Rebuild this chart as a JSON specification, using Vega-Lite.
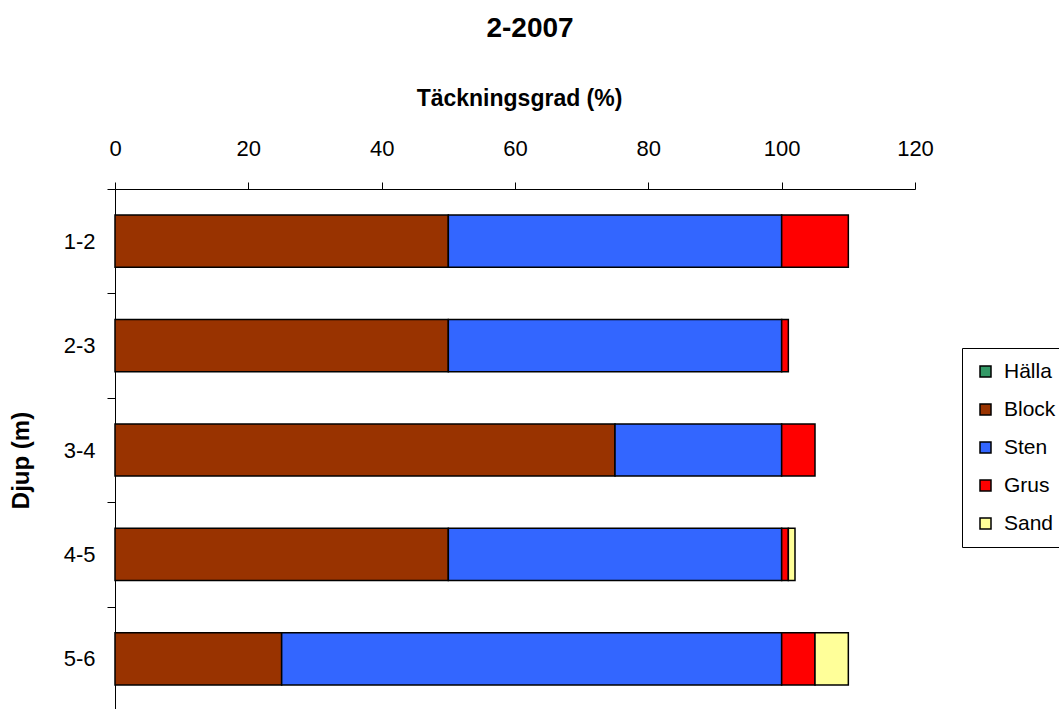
{
  "$schema": "https://vega.github.io/schema/vega-lite/v6.json",
  "width": 800,
  "height": 522,
  "autosize": {"type": "none"},
  "padding": {"left": 115, "top": 189, "right": 144, "bottom": 0},
  "background": "white",
  "config": {
    "font": "Liberation Sans",
    "view": {"stroke": null}
  },
  "title": {
    "text": "2-2007",
    "font": "Liberation Sans",
    "fontSize": 28,
    "fontWeight": "bold",
    "color": "black",
    "anchor": "middle",
    "frame": "group",
    "dx": 15,
    "offset": 44
  },
  "data": {
    "values": [
      {"Djup": "1-2", "Typ": "Block", "Procent": 50},
      {"Djup": "1-2", "Typ": "Sten", "Procent": 50},
      {"Djup": "1-2", "Typ": "Grus", "Procent": 10},
      {"Djup": "2-3", "Typ": "Block", "Procent": 50},
      {"Djup": "2-3", "Typ": "Sten", "Procent": 50},
      {"Djup": "2-3", "Typ": "Grus", "Procent": 1},
      {"Djup": "3-4", "Typ": "Block", "Procent": 75},
      {"Djup": "3-4", "Typ": "Sten", "Procent": 25},
      {"Djup": "3-4", "Typ": "Grus", "Procent": 5},
      {"Djup": "4-5", "Typ": "Block", "Procent": 50},
      {"Djup": "4-5", "Typ": "Sten", "Procent": 50},
      {"Djup": "4-5", "Typ": "Grus", "Procent": 1},
      {"Djup": "4-5", "Typ": "Sand", "Procent": 1},
      {"Djup": "5-6", "Typ": "Block", "Procent": 25},
      {"Djup": "5-6", "Typ": "Sten", "Procent": 75},
      {"Djup": "5-6", "Typ": "Grus", "Procent": 5},
      {"Djup": "5-6", "Typ": "Sand", "Procent": 5}
    ]
  },
  "transform": [
    {"calculate": "indexof(['Hälla', 'Block', 'Sten', 'Grus', 'Sand'], datum.Typ)", "as": "Lager"}
  ],
  "mark": {"type": "bar", "stroke": "black", "strokeWidth": 1.5},
  "encoding": {
    "y": {
      "field": "Djup",
      "type": "nominal",
      "sort": ["1-2", "2-3", "3-4", "4-5", "5-6"],
      "scale": {"paddingInner": 0.5, "paddingOuter": 0.25},
      "axis": {
        "title": "Djup (m)",
        "titleFont": "Liberation Sans",
        "titleFontSize": 24,
        "titleFontWeight": "bold",
        "titleColor": "black",
        "titlePadding": 30,
        "titleY": 271,
        "labelFont": "Liberation Sans",
        "labelFontSize": 22,
        "labelColor": "black",
        "labelPadding": 12,
        "labelOffset": 52.2,
        "domainColor": "black",
        "domainWidth": 1,
        "tickColor": "black",
        "tickSize": 8,
        "tickOffset": -52.2,
        "grid": false
      }
    },
    "x": {
      "field": "Procent",
      "type": "quantitative",
      "stack": "zero",
      "scale": {"domain": [0, 120], "nice": false},
      "axis": {
        "orient": "top",
        "title": "Täckningsgrad (%)",
        "titleFont": "Liberation Sans",
        "titleFontSize": 23,
        "titleFontWeight": "bold",
        "titleColor": "black",
        "titlePadding": 27,
        "titleX": 404,
        "values": [0, 20, 40, 60, 80, 100, 120],
        "labelFont": "Liberation Sans",
        "labelFontSize": 22,
        "labelColor": "black",
        "labelPadding": 22,
        "labelFlush": false,
        "domainColor": "black",
        "domainWidth": 1,
        "tickColor": "black",
        "tickSize": 7,
        "grid": false
      }
    },
    "order": {"field": "Lager", "type": "quantitative"},
    "color": {
      "field": "Typ",
      "type": "nominal",
      "sort": ["Hälla", "Block", "Sten", "Grus", "Sand"],
      "scale": {
        "domain": ["Hälla", "Block", "Sten", "Grus", "Sand"],
        "range": ["#339966", "#993300", "#3366FF", "#FF0000", "#FFFF99"]
      },
      "legend": {
        "title": null,
        "orient": "none",
        "legendX": 847,
        "legendY": 159,
        "direction": "vertical",
        "symbolType": "square",
        "symbolSize": 121,
        "symbolStrokeColor": "black",
        "symbolStrokeWidth": 1.5,
        "symbolOpacity": 1,
        "labelFont": "Liberation Sans",
        "labelFontSize": 21,
        "labelColor": "black",
        "labelOffset": 8,
        "rowPadding": 16,
        "padding": 13,
        "strokeColor": "black",
        "fillColor": "white"
      }
    }
  }
}
